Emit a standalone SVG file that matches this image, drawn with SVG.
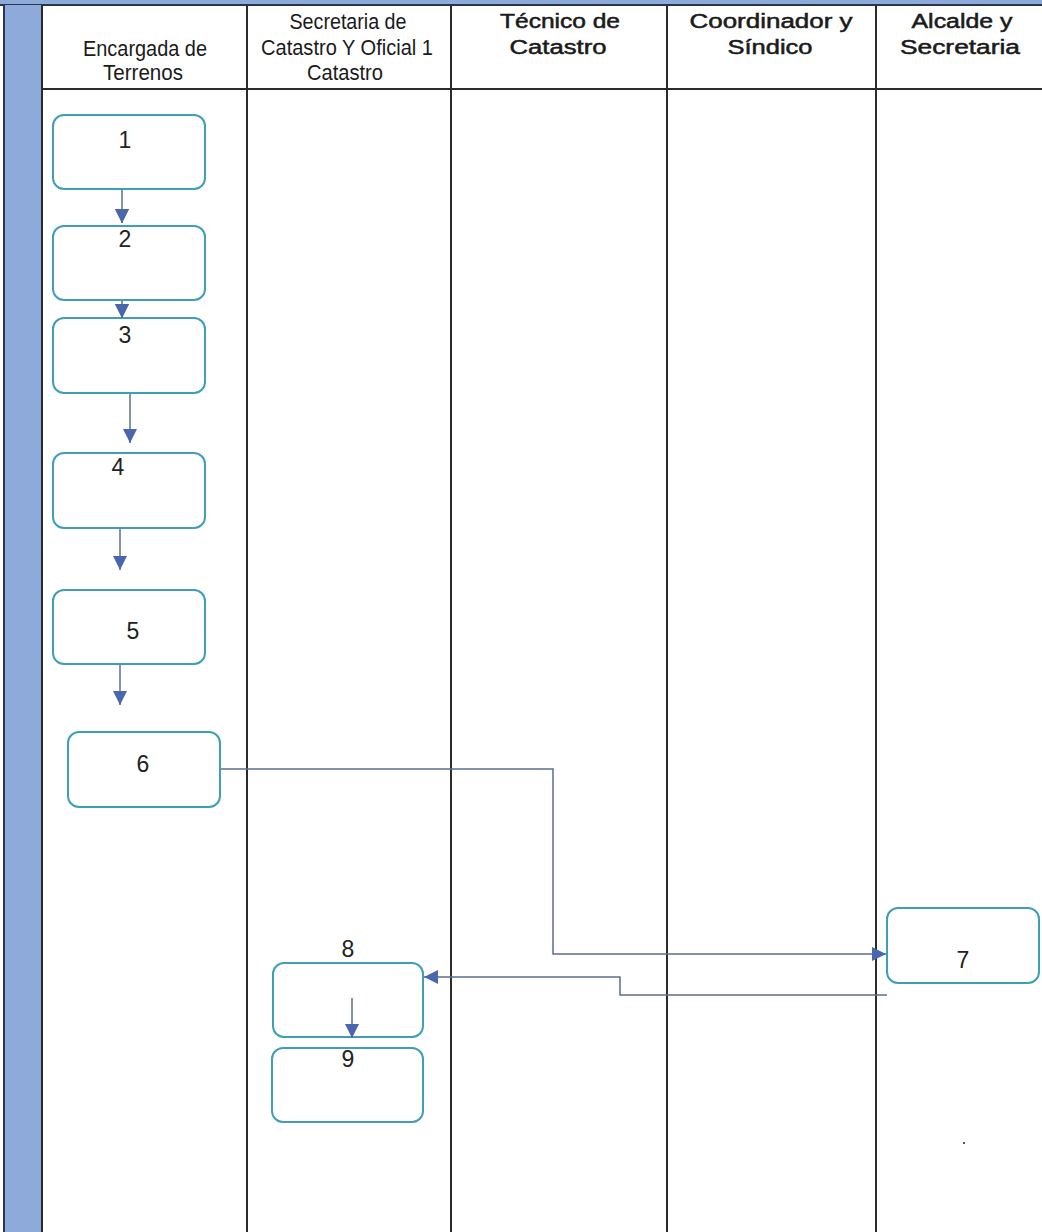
<svg xmlns="http://www.w3.org/2000/svg" width="1042" height="1232" viewBox="0 0 1042 1232">
<style>
.lane{stroke:#2b2b2b;stroke-width:2;fill:none}
.box{fill:#ffffff;stroke:#3f9fb8;stroke-width:2}
.num{font-family:"Liberation Sans",Arial,sans-serif;font-size:23px;fill:#222;text-anchor:middle}
.h1{font-family:"Liberation Sans Narrow","Liberation Sans",Arial,sans-serif;font-size:22px;fill:#1a1a1a;text-anchor:middle}
.h2{font-family:"Liberation Sans",Arial,sans-serif;font-size:20px;fill:#1a1a1a;stroke:#1a1a1a;stroke-width:0.5;text-anchor:middle}
.con{fill:none;stroke:#5b6f8e;stroke-width:1.5}
</style>
<defs>
<marker id="ahs" viewBox="0 0 10 10" refX="10" refY="5" markerWidth="14" markerHeight="14" markerUnits="userSpaceOnUse" orient="auto">
<path d="M0,0 L10,5 L0,10 z" fill="#4a66ad"/>
</marker>
</defs>
<rect x="0" y="0" width="1042" height="1232" fill="#ffffff"/>
<g id="frame">
<rect x="0" y="0" width="1042" height="5" fill="#8eaadb"/>
<line x1="0" y1="5" x2="1042" y2="5" stroke="#2a3550" stroke-width="2"/>
<rect x="4" y="5" width="38" height="1227" fill="#8eaadb"/>
<line x1="4" y1="5" x2="4" y2="1232" stroke="#2a3550" stroke-width="2"/>
<line class="lane" x1="42" y1="5" x2="42" y2="1232"/>
<line class="lane" x1="247" y1="5" x2="247" y2="1232"/>
<line class="lane" x1="451" y1="5" x2="451" y2="1232"/>
<line class="lane" x1="667" y1="5" x2="667" y2="1232"/>
<line class="lane" x1="876" y1="5" x2="876" y2="1232"/>
<line class="lane" x1="42" y1="89" x2="1042" y2="89"/>
</g>
<g id="headers">
<text class="h1" x="145" y="56" textLength="124" lengthAdjust="spacingAndGlyphs">Encargada de</text>
<text class="h1" x="143" y="80" textLength="80" lengthAdjust="spacingAndGlyphs">Terrenos</text>
<text class="h1" x="348" y="29" textLength="117" lengthAdjust="spacingAndGlyphs">Secretaria de</text>
<text class="h1" x="347" y="55" textLength="172" lengthAdjust="spacingAndGlyphs">Catastro Y Oficial 1</text>
<text class="h1" x="345" y="80" textLength="76" lengthAdjust="spacingAndGlyphs">Catastro</text>
<text class="h2" x="560" y="28" textLength="120" lengthAdjust="spacingAndGlyphs">Técnico de</text>
<text class="h2" x="558" y="54" textLength="97" lengthAdjust="spacingAndGlyphs">Catastro</text>
<text class="h2" x="771" y="28" textLength="163" lengthAdjust="spacingAndGlyphs">Coordinador y</text>
<text class="h2" x="770" y="54" textLength="85" lengthAdjust="spacingAndGlyphs">Síndico</text>
<text class="h2" x="962" y="28" textLength="101" lengthAdjust="spacingAndGlyphs">Alcalde y</text>
<text class="h2" x="960" y="54" textLength="120" lengthAdjust="spacingAndGlyphs">Secretaria</text>
</g>
<g id="connectors">
<path class="con" d="M122,183 V223" marker-end="url(#ahs)"/>
<path class="con" d="M122,290 V318" marker-end="url(#ahs)"/>
<path class="con" d="M130,393 V443" marker-end="url(#ahs)"/>
<path class="con" d="M120,522 V570" marker-end="url(#ahs)"/>
<path class="con" d="M120,659 V705" marker-end="url(#ahs)"/>
<path class="con" d="M220,769 H553 V954 H886" marker-end="url(#ahs)"/>
<path class="con" d="M887,995 H620 V977 H424" marker-end="url(#ahs)"/>
</g>
<g id="node1"><rect class="box" x="53" y="115" width="152" height="74" rx="11"/><text class="num" x="125" y="148">1</text></g>
<g id="node2"><rect class="box" x="53" y="226" width="152" height="74" rx="11"/><text class="num" x="125" y="247">2</text></g>
<g id="node3"><rect class="box" x="53" y="318" width="152" height="75" rx="11"/><text class="num" x="125" y="343">3</text></g>
<g id="node4"><rect class="box" x="53" y="453" width="152" height="75" rx="11"/><text class="num" x="118" y="475">4</text></g>
<g id="node5"><rect class="box" x="53" y="590" width="152" height="74" rx="11"/><text class="num" x="133" y="639">5</text></g>
<g id="node6"><rect class="box" x="68" y="732" width="152" height="75" rx="11"/><text class="num" x="143" y="772">6</text></g>
<g id="node7"><rect class="box" x="887" y="908" width="152" height="75" rx="11"/><text class="num" x="963" y="968">7</text></g>
<g id="node8"><rect class="box" x="273" y="963" width="150" height="74" rx="11"/><text class="num" x="348" y="957">8</text></g>
<g id="node9"><rect class="box" x="272" y="1048" width="151" height="74" rx="11"/><text class="num" x="348" y="1067">9</text></g>
<rect x="963" y="1142" width="2" height="2" fill="#555"/>
<g id="connectors-top">
<path class="con" d="M122,212 V223" marker-end="url(#ahs)"/>
<path class="con" d="M122,306 V318" marker-end="url(#ahs)"/>
<path class="con" d="M352,998 V1038" marker-end="url(#ahs)"/>
</g>
</svg>
